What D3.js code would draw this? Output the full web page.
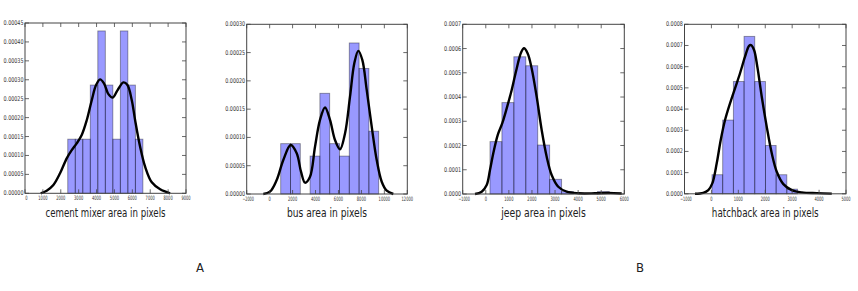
<!DOCTYPE html>
<html>
<head>
<meta charset="utf-8">
<script src="https://cdn.jsdelivr.net/npm/d3@7"></script>
<style>
  html, body { margin: 0; padding: 0; background: #fff; }
  svg { display: block; }
  text { font-family: "DejaVu Sans Condensed", "DejaVu Sans", sans-serif; }
</style>
</head>
<body>
<div id="chart"></div>
<script>
// histogram bin edges and densities
var cementEdges = [2390, 2810, 3230, 3650, 4070, 4490, 4910, 5330, 5750, 6170, 6590];
var cementHeights = [0.000143, 0.000143, 0.000143, 0.000286, 0.000429, 0.000286, 0.000143, 0.000429, 0.000286, 0.000143];
var busEdges = [964, 1818, 2672, 3526, 4380, 5234, 6088, 6942, 7796, 8650, 9504];
var busHeights = [0.0000890, 0.0000890, 0, 0.0000670, 0.000178, 0.0000890, 0.0000670, 0.000267, 0.000222, 0.000111];
var jeepEdges = [182, 699, 1216, 1733, 2250, 2767, 3284, 3801, 4318, 4835, 5352];
var jeepHeights = [0.000216, 0.000377, 0.000566, 0.000529, 0.000202, 0.0000606, 0.00001, 0, 0, 0.00001];
var hatchEdges = [22, 419, 816, 1213, 1610, 2007, 2404, 2801, 3198];
var hatchHeights = [0.000090, 0.000348, 0.000530, 0.000743, 0.000530, 0.000228, 0.000090, 0.000022];

// density curves, [x, density]
var cementCurve = [[877, 0], [1212, 0.0000069], [1585, 0.0000219], [1959, 0.0000528], [2332, 0.0000923],
  [2612, 0.000114], [2891, 0.000132], [3171, 0.000154], [3451, 0.000193], [3731, 0.000246], [3973, 0.000286],
  [4197, 0.000301], [4421, 0.000290], [4663, 0.000262], [4906, 0.000253], [5167, 0.000272], [5503, 0.000293],
  [5727, 0.000286], [5969, 0.000246], [6156, 0.000193], [6435, 0.000123], [6715, 0.0000702], [7088, 0.000029],
  [7555, 0.0000106], [8114, 0]];
var busCurve = [[-553, 0], [31, 0.0000041], [615, 0.0000247], [1191, 0.0000601], [1836, 0.0000866],
  [2359, 0.000072], [2734, 0.0000394], [3083, 0.00002], [3519, 0.0000306], [3955, 0.0000836], [4390, 0.000131],
  [4826, 0.000153], [5262, 0.000131], [5698, 0.0000955], [6134, 0.000079], [6570, 0.000107], [7006, 0.000172],
  [7381, 0.000231], [7730, 0.000253], [8078, 0.000237], [8462, 0.000184], [8898, 0.000119], [9334, 0.00006],
  [9770, 0.0000217], [10206, 0.0000058], [10781, 0]];
var jeepCurve = [[-467, 0], [-177, 0.0000095], [39, 0.000037], [182, 0.000099], [325, 0.000168],
  [516, 0.000243], [715, 0.000292], [906, 0.000353], [1122, 0.000429], [1339, 0.000518], [1525, 0.000583],
  [1655, 0.000601], [1815, 0.00058], [1988, 0.000518], [2205, 0.000401], [2421, 0.000264], [2638, 0.000154],
  [2854, 0.0000784], [3140, 0.00003], [3504, 0.0000095], [4006, 0.000003], [4730, 0.000003], [5306, 0.0000045],
  [5886, 0.000002]];
var hatchCurve = [[-610, 0], [-301, 0.0000047], [-115, 0.0000175], [33, 0.000049], [197, 0.000144],
  [346, 0.000254], [506, 0.000348], [691, 0.000427], [877, 0.000498], [1063, 0.000569], [1249, 0.000647],
  [1398, 0.000698], [1472, 0.000702], [1584, 0.000679], [1706, 0.0006], [1870, 0.000458], [2056, 0.000316],
  [2242, 0.000191], [2428, 0.000104], [2673, 0.0000458], [2985, 0.0000175], [3357, 0.0000066], [3914, 0.000003],
  [4472, 0.000001]];

// axis ticks
var cementXTicks = [0, 1000, 2000, 3000, 4000, 5000, 6000, 7000, 8000, 9000];
var busXTicks = [-2000, 0, 2000, 4000, 6000, 8000, 10000, 12000];
var jeepXTicks = [-1000, 0, 1000, 2000, 3000, 4000, 5000, 6000];
var hatchXTicks = [-1000, 0, 1000, 2000, 3000, 4000, 5000];
var cementYTicks = [0, 0.00005, 0.0001, 0.00015, 0.0002, 0.00025, 0.0003, 0.00035, 0.0004, 0.00045];
var busYTicks = [0, 0.00005, 0.0001, 0.00015, 0.0002, 0.00025, 0.0003];
var jeepYTicks = [0, 0.0001, 0.0002, 0.0003, 0.0004, 0.0005, 0.0006, 0.0007];
var hatchYTicks = [0, 0.0001, 0.0002, 0.0003, 0.0004, 0.0005, 0.0006, 0.0007, 0.0008];

var xLabels = ["cement mixer area in pixels", "bus area in pixels", "jeep area in pixels", "hatchback area in pixels"];
var panelLetters = ["A", "B"];

var width = 858, height = 291;

var svg = d3.select("#chart").append("svg")
    .attr("width", width)
    .attr("height", height);

var panels = [
  { edges: cementEdges, heights: cementHeights, curve: cementCurve, xt: cementXTicks, yt: cementYTicks,
    fmt: ".5f", label: xLabels[0], x0: 25, x1: 186, y0: 193.3, y1: 23 },
  { edges: busEdges, heights: busHeights, curve: busCurve, xt: busXTicks, yt: busYTicks,
    fmt: ".5f", label: xLabels[1], x0: 246.7, x1: 407.3, y0: 194, y1: 24.3 },
  { edges: jeepEdges, heights: jeepHeights, curve: jeepCurve, xt: jeepXTicks, yt: jeepYTicks,
    fmt: ".4f", label: xLabels[2], x0: 462.7, x1: 624.3, y0: 194, y1: 24.3 },
  { edges: hatchEdges, heights: hatchHeights, curve: hatchCurve, xt: hatchXTicks, yt: hatchYTicks,
    fmt: ".4f", label: xLabels[3], x0: 684.5, x1: 846, y0: 193.8, y1: 24.3 }
];

panels.forEach(function(p) {
  var x = d3.scaleLinear()
      .domain([p.xt[0], p.xt[p.xt.length - 1]])
      .range([p.x0, p.x1]),
    y = d3.scaleLinear()
      .domain([0, p.yt[p.yt.length - 1]])
      .range([p.y0, p.y1]),
    g = svg.append("g"),
    tick = 4;

  // bars
  g.selectAll("rect.bar")
      .data(p.heights)
    .enter().append("rect")
      .attr("class", "bar")
      .attr("x", function(d, i) { return x(p.edges[i]); })
      .attr("width", function(d, i) { return x(p.edges[i + 1]) - x(p.edges[i]); })
      .attr("y", function(d) { return y(d); })
      .attr("height", function(d) { return y(0) - y(d); })
      .style("fill", "rgba(0,0,255,0.4)")
      .style("stroke", function(d) { return d > 0 ? "rgba(0,0,0,0.4)" : "none"; })
      .style("stroke-width", 0.9);

  // density curve
  var line = d3.line()
      .x(function(d) { return x(d[0]); })
      .y(function(d) { return y(d[1]); })
      .curve(d3.curveCatmullRom);

  g.append("path")
      .datum(p.curve)
      .attr("d", line)
      .style("fill", "none")
      .style("stroke", "#000")
      .style("stroke-width", 2.4);

  // frame
  g.append("rect")
      .attr("x", p.x0)
      .attr("y", p.y1)
      .attr("width", p.x1 - p.x0)
      .attr("height", p.y0 - p.y1)
      .style("fill", "none")
      .style("stroke", "#444")
      .style("stroke-width", 1);

  // inward ticks on all four sides
  p.xt.forEach(function(v) {
    g.append("line").attr("x1", x(v)).attr("x2", x(v)).attr("y1", p.y0).attr("y2", p.y0 - tick)
      .style("stroke", "#444").style("stroke-width", 0.8);
    g.append("line").attr("x1", x(v)).attr("x2", x(v)).attr("y1", p.y1).attr("y2", p.y1 + tick)
      .style("stroke", "#444").style("stroke-width", 0.8);
  });
  p.yt.forEach(function(v) {
    g.append("line").attr("x1", p.x0).attr("x2", p.x0 + tick).attr("y1", y(v)).attr("y2", y(v))
      .style("stroke", "#444").style("stroke-width", 0.8);
    g.append("line").attr("x1", p.x1).attr("x2", p.x1 - tick).attr("y1", y(v)).attr("y2", y(v))
      .style("stroke", "#444").style("stroke-width", 0.8);
  });

  // tick labels
  var xf = d3.format("d"), yf = d3.format(p.fmt);
  g.selectAll("text.xt")
      .data(p.xt)
    .enter().append("text")
      .attr("class", "xt")
      .attr("x", function(d, i) { return x(d) + (i === 0 ? 1.5 : 0); })
      .attr("y", p.y0 + 7)
      .attr("text-anchor", "middle")
      .attr("textLength", function(d) { return xf(d).length * 2.3; })
      .attr("lengthAdjust", "spacingAndGlyphs")
      .style("font-size", "6px")
      .style("fill", "#333")
      .text(function(d) { return xf(d); });

  g.selectAll("text.yt")
      .data(p.yt)
    .enter().append("text")
      .attr("class", "yt")
      .attr("x", p.x0 - 1.5)
      .attr("y", function(d) { return y(d) + 2; })
      .attr("text-anchor", "end")
      .attr("textLength", function(d) { return yf(d).length * 2.85; })
      .attr("lengthAdjust", "spacingAndGlyphs")
      .style("font-size", "6.5px")
      .style("fill", "#333")
      .text(function(d) { return yf(d); });

  // axis label
  g.append("text")
      .attr("x", (p.x0 + p.x1) / 2)
      .attr("y", 216.5)
      .attr("text-anchor", "middle")
      .attr("textLength", p.label.length * 4.45)
      .attr("lengthAdjust", "spacingAndGlyphs")
      .style("font-size", "12.5px")
      .style("fill", "#222")
      .text(p.label);
});

// panel letters
svg.selectAll("text.letter")
    .data(panelLetters)
  .enter().append("text")
    .attr("class", "letter")
    .attr("x", function(d, i) { return i === 0 ? 200 : 640; })
    .attr("y", 272)
    .attr("text-anchor", "middle")
    .style("font-size", "13px")
    .style("fill", "#222")
    .text(function(d) { return d; });
</script>
</body>
</html>
